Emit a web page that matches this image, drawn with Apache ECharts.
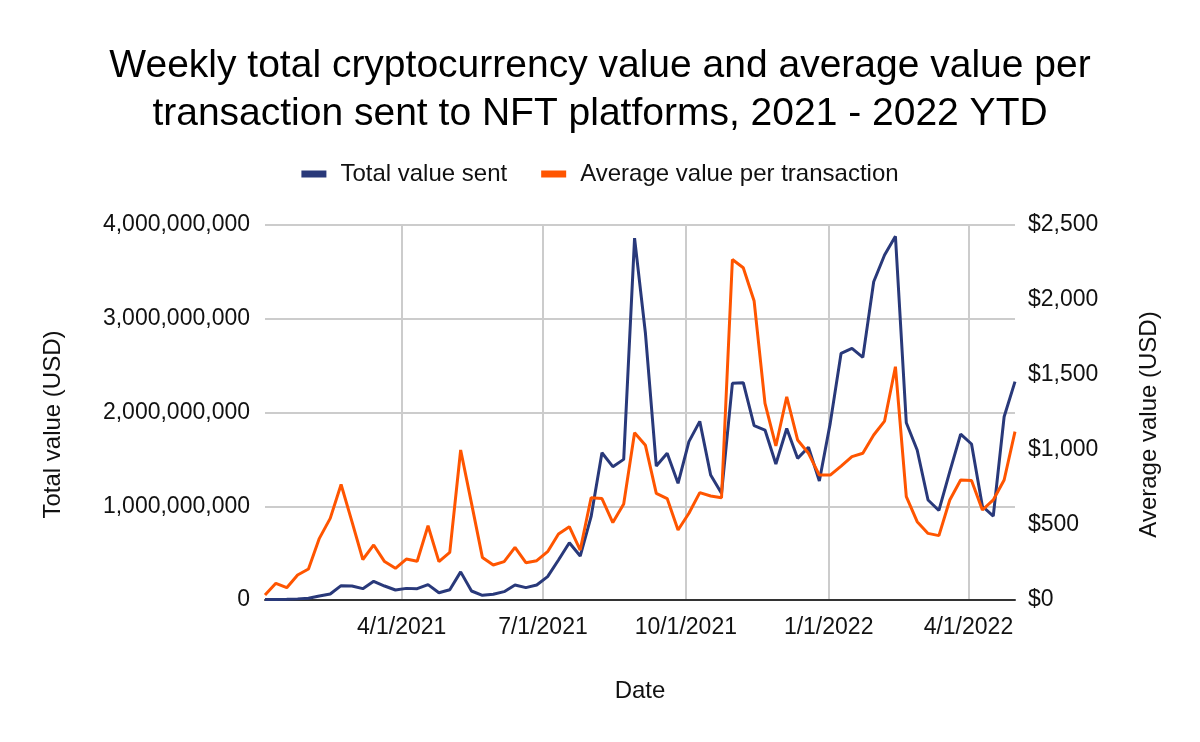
<!DOCTYPE html>
<html>
<head>
<meta charset="utf-8">
<title>NFT platforms weekly value</title>
<script src="https://cdn.jsdelivr.net/npm/echarts@6/dist/echarts.min.js"></script>
<style>
  html, body { margin: 0; padding: 0; background: #fff; }
  #chart { width: 1200px; height: 742px; }
</style>
</head>
<body>
<div id="chart"></div>
<script>
// week start dates (Sundays)
const weeks = [
  '2021-01-03', '2021-01-10', '2021-01-17', '2021-01-24', '2021-01-31',
  '2021-02-07', '2021-02-14', '2021-02-21', '2021-02-28',
  '2021-03-07', '2021-03-14', '2021-03-21', '2021-03-28',
  '2021-04-04', '2021-04-11', '2021-04-18', '2021-04-25',
  '2021-05-02', '2021-05-09', '2021-05-16', '2021-05-23', '2021-05-30',
  '2021-06-06', '2021-06-13', '2021-06-20', '2021-06-27',
  '2021-07-04', '2021-07-11', '2021-07-18', '2021-07-25',
  '2021-08-01', '2021-08-08', '2021-08-15', '2021-08-22', '2021-08-29',
  '2021-09-05', '2021-09-12', '2021-09-19', '2021-09-26',
  '2021-10-03', '2021-10-10', '2021-10-17', '2021-10-24', '2021-10-31',
  '2021-11-07', '2021-11-14', '2021-11-21', '2021-11-28',
  '2021-12-05', '2021-12-12', '2021-12-19', '2021-12-26',
  '2022-01-02', '2022-01-09', '2022-01-16', '2022-01-23', '2022-01-30',
  '2022-02-06', '2022-02-13', '2022-02-20', '2022-02-27',
  '2022-03-06', '2022-03-13', '2022-03-20', '2022-03-27',
  '2022-04-03', '2022-04-10', '2022-04-17', '2022-04-24',
  '2022-05-01'
]

// Total value sent (USD)
const totalValue = [
  5e6, 5e6, 8e6, 12e6, 18e6,
  43e6, 64e6, 153e6, 149e6,
  121e6, 199e6, 149e6, 107e6,
  124e6, 121e6, 164e6, 78e6,
  110e6, 300e6, 96e6, 50e6, 61e6,
  89e6, 160e6, 132e6, 160e6,
  249e6, 427e6, 611e6, 469e6,
  889e6, 1571e6, 1422e6, 1500e6, 3860e6,
  2845e6, 1429e6, 1565e6, 1245e6,
  1689e6, 1905e6, 1333e6, 1138e6, 2311e6,
  2318e6, 1860e6, 1813e6, 1450e6,
  1830e6, 1511e6, 1629e6, 1270e6,
  1884e6, 2631e6, 2684e6, 2588e6, 3395e6,
  3680e6, 3880e6, 1891e6, 1600e6,
  1067e6, 955e6, 1369e6, 1770e6,
  1664e6, 1000e6, 895e6, 1955e6,
  2329e6
]

// Average value per transaction (USD)
const avgValue = [
  33, 111, 82, 167, 207,
  411, 544, 770, 522,
  270, 367, 256, 211,
  273, 258, 495, 256,
  318, 1000, 644, 284, 233,
  256, 351, 249, 262,
  322, 440, 489, 333,
  682, 676, 516, 640, 1115,
  1031, 711, 676, 467,
  578, 716, 693, 682, 2270,
  2215, 1993, 1311, 1027,
  1355, 1067, 978, 833,
  833, 893, 956, 978, 1100,
  1193, 1555, 689, 522,
  444, 429, 667, 800,
  796, 600, 667, 800,
  1122
]

const quarterTicks = ['2021-04-01', '2021-07-01', '2021-10-01', '2022-01-01', '2022-04-01']

const toTime = function (s) {
  const p = s.split('-').map(Number)
  return new Date(p[0], p[1] - 1, p[2]).getTime()
}

const fmtDate = function (v) {
  const d = new Date(v)
  return (d.getMonth() + 1) + '/' + d.getDate() + '/' + d.getFullYear()
}

const font = 'Liberation Sans, Arial, sans-serif'
const gridColor = '#cccccc'
const textColor = '#111'

const chart = echarts.init(document.getElementById('chart'))
const option = {
  backgroundColor: '#ffffff',
  animation: false,
  title: {
    text: 'Weekly total cryptocurrency value and average value per\ntransaction sent to NFT platforms, 2021 - 2022 YTD',
    left: 'center',
    top: 37,
    textStyle: {
      fontFamily: font,
      fontSize: 39,
      fontWeight: 'normal',
      color: '#000',
      lineHeight: 48
    }
  },
  legend: {
    top: 157,
    left: 'center',
    icon: 'rect',
    itemWidth: 25,
    itemHeight: 7,
    itemGap: 34,
    textStyle: {
      fontFamily: font,
      fontSize: 24,
      color: textColor,
      padding: [0, 0, 0, 9]
    },
    data: ['Total value sent', 'Average value per transaction']
  },
  grid: {
    left: 265,
    right: 185,
    top: 225,
    bottom: 142
  },
  xAxis: {
    type: 'value',
    min: toTime(weeks[0]),
    max: toTime(weeks[weeks.length - 1]),
    name: 'Date',
    nameLocation: 'middle',
    nameGap: 79,
    nameTextStyle: { fontFamily: font, fontSize: 24, color: textColor, verticalAlign: 'top' },
    axisLine: { lineStyle: { color: '#333', width: 2 } },
    axisTick: { show: false, customValues: quarterTicks.map(toTime) },
    axisLabel: {
      customValues: quarterTicks.map(toTime),
      formatter: fmtDate,
      fontFamily: font,
      fontSize: 23,
      color: textColor,
      margin: 16
    },
    splitLine: { show: true, lineStyle: { color: gridColor, width: 2 } }
  },
  yAxis: [
    {
      type: 'value',
      min: 0,
      max: 4e9,
      interval: 1e9,
      name: 'Total value (USD)',
      nameLocation: 'middle',
      nameRotate: 90,
      nameGap: 200,
      nameTextStyle: { fontFamily: font, fontSize: 24, color: textColor, padding: [0, 24, 0, 0] },
      axisLine: { show: false },
      axisTick: { show: false },
      axisLabel: {
        formatter: function (v) { return v.toLocaleString('en-US') },
        fontFamily: font,
        fontSize: 23,
        color: textColor,
        margin: 15
      },
      splitLine: { show: true, lineStyle: { color: gridColor, width: 2 } }
    },
    {
      type: 'value',
      min: 0,
      max: 2500,
      interval: 500,
      name: 'Average value (USD)',
      nameLocation: 'middle',
      nameRotate: 90,
      nameGap: 122,
      nameTextStyle: { fontFamily: font, fontSize: 24, color: textColor, padding: [0, 24, 0, 0] },
      axisLine: { show: false },
      axisTick: { show: false },
      axisLabel: {
        formatter: function (v) { return '$' + v.toLocaleString('en-US') },
        fontFamily: font,
        fontSize: 23,
        color: textColor,
        margin: 13
      },
      splitLine: { show: false }
    }
  ],
  series: [
    {
      name: 'Total value sent',
      type: 'line',
      yAxisIndex: 0,
      showSymbol: false,
      symbol: 'none',
      color: '#29397a',
      lineStyle: { width: 3, color: '#29397a' },
      data: weeks.map((w, i) => [toTime(w), totalValue[i]])
    },
    {
      name: 'Average value per transaction',
      type: 'line',
      yAxisIndex: 1,
      showSymbol: false,
      symbol: 'none',
      color: '#ff5500',
      lineStyle: { width: 3, color: '#ff5500' },
      data: weeks.map((w, i) => [toTime(w), avgValue[i]])
    }
  ]
}
chart.setOption(option)
</script>
</body>
</html>
